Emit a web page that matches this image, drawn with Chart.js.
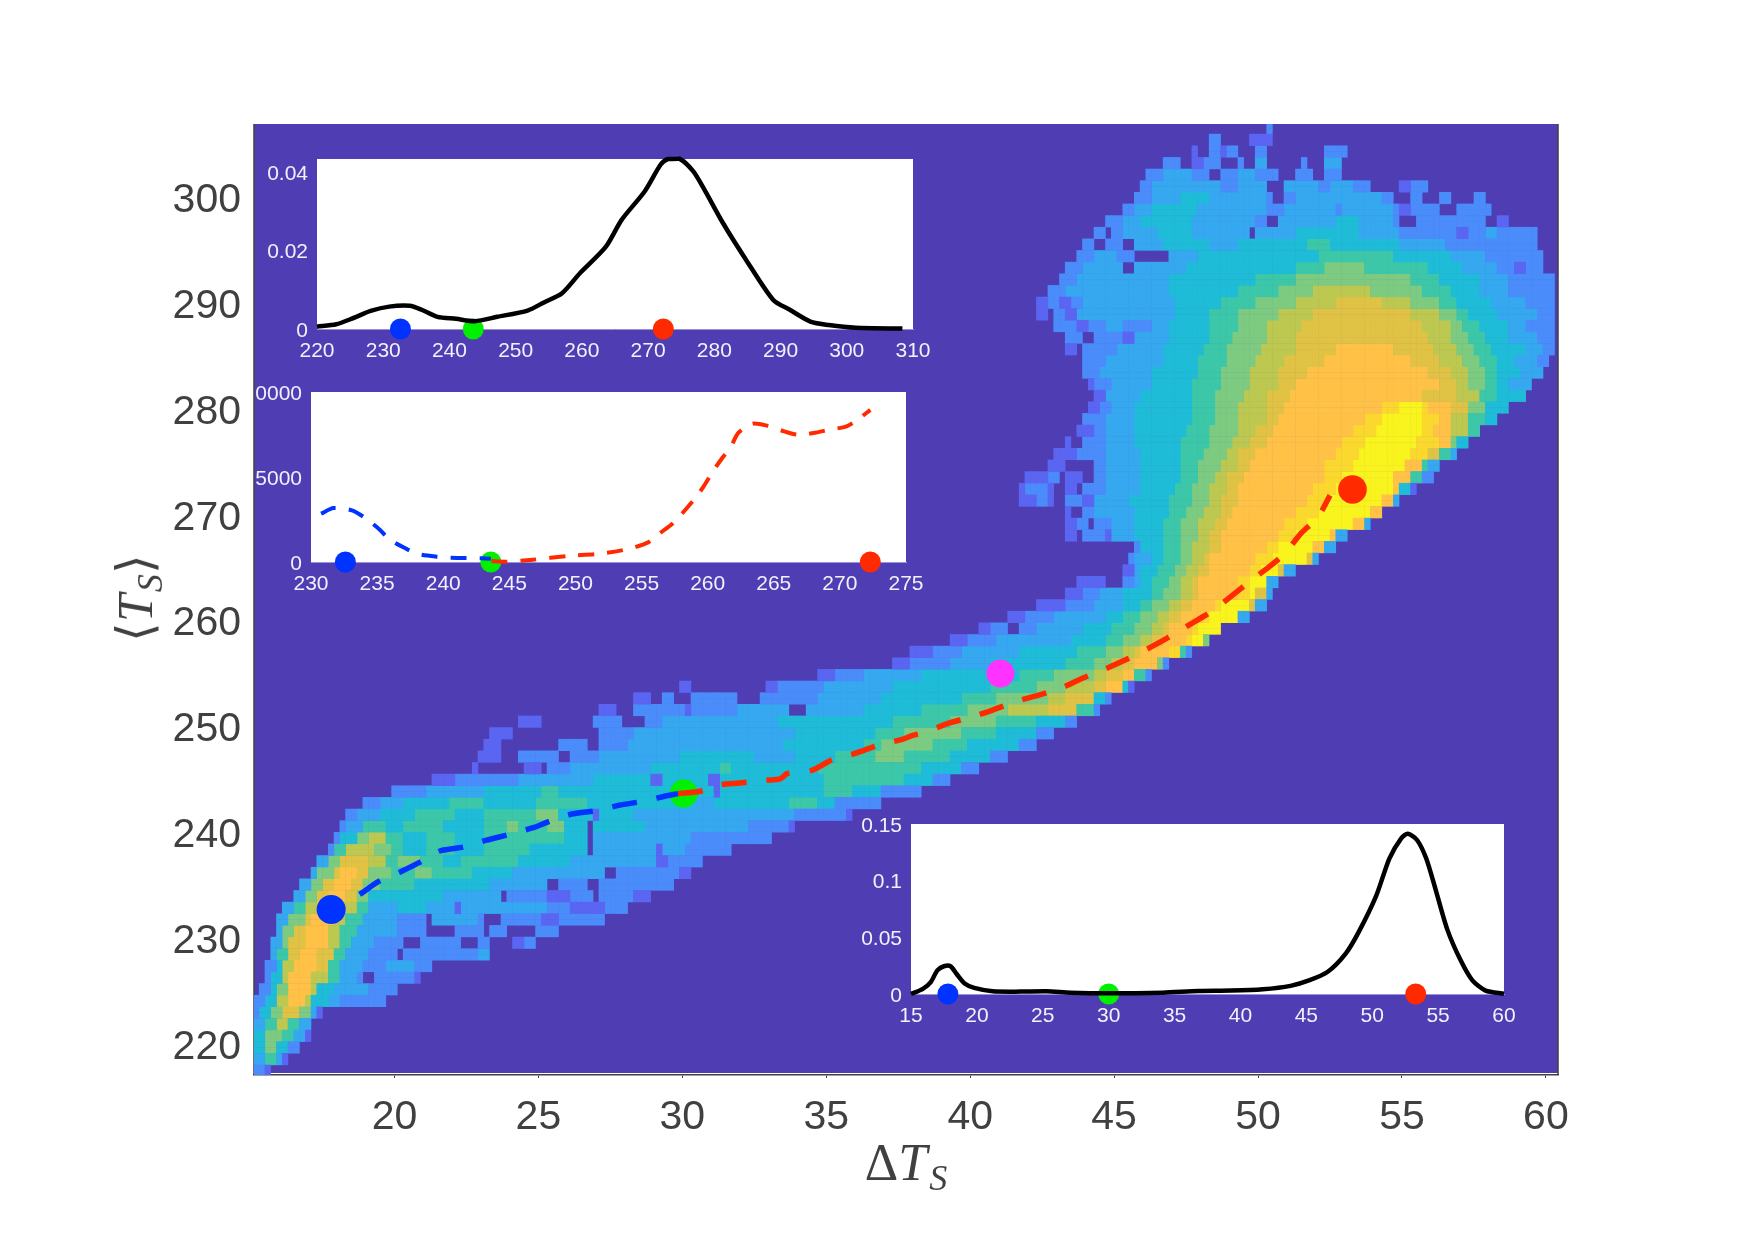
<!DOCTYPE html>
<html>
<head>
<meta charset="utf-8">
<script src="https://cdn.jsdelivr.net/npm/chart.js@4"></script>
<style>
  html, body { margin: 0; padding: 0; background: #fff; }
  #page { position: relative; width: 1755px; height: 1240px; overflow: hidden; }
  #page canvas { position: absolute; left: 0; top: 0; }
  .axis-title { position: absolute; color: #404040; font-family: "Liberation Serif", serif; font-size: 52px; line-height: 1; white-space: nowrap; }
  .axis-title i { font-style: italic; }
  .axis-title sub { font-size: 36px; line-height: 0; vertical-align: -10px; margin-left: 2px; }
  #xTitle { left: 906px; top: 1137px; transform: translateX(-50%); }
  #yTitle { left: 135px; top: 598px; transform: translate(-50%, -50%) rotate(-90deg); font-size: 50px; }
</style>
</head>
<body>
<div id="page">
  <canvas id="main" width="1755" height="1240"></canvas>
  <canvas id="insetTemp" width="1755" height="1240"></canvas>
  <canvas id="insetEnergy" width="1755" height="1240"></canvas>
  <canvas id="insetDelta" width="1755" height="1240"></canvas>
  <div class="axis-title" id="xTitle">Δ<i>T</i><sub><i>S</i></sub></div>
  <div class="axis-title" id="yTitle">⟨<i>T</i><sub><i>S</i></sub>⟩</div>
</div>
<script>
// Tick values and labels
const mainXTicks = [20, 25, 30, 35, 40, 45, 50, 55, 60];
const mainYTicks = [220, 230, 240, 250, 260, 270, 280, 290, 300];
const tempXTicks = [220, 230, 240, 250, 260, 270, 280, 290, 300, 310];
const tempYTicks = [0, 0.02, 0.04];
const tempYLabels = ['0', '0.02', '0.04'];
const energyXTicks = [230, 235, 240, 245, 250, 255, 260, 265, 270, 275];
const energyYTicks = [0, 5000, 10000];
const energyYLabels = ['0', '5000', '0000'];
const deltaXTicks = [15, 20, 25, 30, 35, 40, 45, 50, 55, 60];
const deltaYTicks = [0, 0.05, 0.1, 0.15];
const deltaYLabels = ['0', '0.05', '0.1', '0.15'];

// Marked states: cold, transition, warm, and the extra state on the main panel
const stateDeltaT = [17.8, 30.05, 53.28, 41.05];
const stateMeanT = [232.75, 243.7, 272.45, 255.05];
const stateTempX = [232.6, 243.6, 272.3];
const stateEnergyX = [232.6, 243.6, 272.3];
const stateDeltaX = [17.8, 30.0, 53.3];

// Dashed branches on the main panel
const coldBranchX = [17.88, 17.8, 18.8, 19.45, 20.2, 20.87, 21.6, 22.4, 23.2, 24.0, 24.85, 25.4, 26.2, 27.05, 27.8, 28.7, 29.46, 29.85];
const coldBranchY = [230.9, 232.7, 234.2, 235.4, 236.3, 237.2, 238.3, 238.65, 239.3, 239.85, 240.5, 241.1, 241.8, 242.1, 242.6, 243.0, 243.5, 243.7];
const warmBranchX = [29.85, 30.67, 31.2, 32.0, 32.87, 33.4, 33.65, 34.5, 35.2, 36.0, 36.85, 37.6, 38.0, 38.45, 39.18, 39.98, 40.78, 41.58, 42.38, 43.18, 43.9, 44.7, 45.44, 46.24, 46.9, 47.7, 48.37, 49.04, 49.78, 50.37, 50.96, 51.49, 52.07, 52.5];
const warmBranchY = [243.7, 243.95, 244.5, 244.7, 244.95, 245.1, 245.6, 245.9, 246.9, 247.5, 248.3, 248.8, 249.2, 249.5, 250.3, 250.9, 251.6, 252.4, 253.0, 253.7, 254.6, 255.5, 256.4, 257.5, 258.5, 259.8, 260.9, 262.3, 263.9, 265.1, 266.5, 268.3, 269.8, 271.9];

// Probability density of the mean temperature
const tempPdfX = [220, 222.9, 225.35, 228.1, 230.9, 234, 235.8, 238.2, 241, 243.8, 247.2, 251.8, 254.2, 257, 259.7, 263.6, 266, 269.5, 271.9, 273, 274.7, 276.8, 278.5, 281.3, 284.8, 288.9, 291.4, 294.5, 297.3, 301.4, 308.4];
const tempPdfY = [0.0006, 0.0012, 0.0027, 0.0046, 0.0057, 0.0059, 0.0049, 0.0031, 0.0026, 0.002, 0.0031, 0.0047, 0.0067, 0.0091, 0.0142, 0.0209, 0.0278, 0.0351, 0.0419, 0.0433, 0.0434, 0.0402, 0.0355, 0.027, 0.0176, 0.0074, 0.0049, 0.0019, 0.001, 0.0003, 0.0001];

// Potential curve, cold and warm pieces
const energyColdX = [230.76, 231.7, 233.1, 234.1, 235.2, 235.9, 237.1, 238, 239.5, 240.6, 242.85, 243.6];
const energyColdY = [2842, 3175, 3038, 2587, 1901, 1352, 823, 490, 314, 255, 216, 196];
const energyWarmX = [243.65, 244.8, 246.8, 249.4, 251.9, 254.1, 255.5, 256.4, 257.4, 258.1, 259, 259.7, 260.4, 261.1, 261.8, 262.3, 263.4, 264.4, 265.8, 266.8, 268, 269.2, 270.5, 271.5, 272.3];
const energyWarmY = [60, 20, 137, 353, 490, 784, 1156, 1705, 2293, 2881, 3704, 4449, 5331, 6115, 6840, 7585, 8134, 8036, 7683, 7487, 7585, 7781, 7977, 8467, 8950];

// Probability density of the temperature contrast
const deltaPdfX = [15, 15.9, 16.5, 17, 17.5, 18, 18.45, 19.1, 19.8, 21.2, 23.3, 25.3, 27.1, 29.9, 34.1, 36.8, 39.3, 41.7, 43.8, 45.2, 46.6, 48, 49, 50.3, 51.3, 52.2, 52.7, 53.4, 54.1, 54.8, 55.7, 56.7, 57.6, 58.6, 60];
const deltaPdfY = [0, 0.0045, 0.0105, 0.0209, 0.0245, 0.0245, 0.0179, 0.009, 0.0054, 0.0024, 0.0021, 0.0024, 0.0012, 0.0006, 0.0012, 0.0027, 0.003, 0.0042, 0.0072, 0.012, 0.0194, 0.0359, 0.0553, 0.0866, 0.1195, 0.1374, 0.1413, 0.1359, 0.1195, 0.0926, 0.0568, 0.0299, 0.012, 0.003, 0.0003];

// Occupancy histogram, one entry per band of mean temperature, lowest band first.
// Each band reads: contrast, level, contrast, level, ... , closing contrast. Level 0 is empty.
const heatFirstBand = 217.5;
const heatBandHeight = 1.1;
const heatBinWidth = 0.2;
const heatBinOrigin = 15.1;
const heatBands = [
  [15.1,2,15.5,1,15.7],
  [15.1,3,15.4,5,15.8,3,16.1,1,16.3],
  [15.1,4,15.4,6,15.9,4,16.3,2,16.6],
  [15.1,4,15.5,6,16.1,5,16.5,3,16.8,1,17.0],
  [15.1,3,15.4,5,15.8,7,16.3,5,16.7,3,17.0,1,17.1],
  [15.1,2,15.3,4,15.7,6,16.2,8,16.7,6,17.0,3,17.3,1,17.5],
  [15.1,2,15.4,4,15.8,7,16.3,9,16.8,7,17.1,4,17.6,3,18.2,2,19.6],
  [15.3,2,15.6,4,15.9,6,16.3,9,17.1,7,17.4,4,17.9,3,19.2,2,20.0],
  [15.4,2,15.6,4,16.0,7,16.4,9,17.2,7,17.6,5,18.0,3,18.6,2,18.9,0,19.3,2,20.7,1,20.9],
  [15.5,2,15.8,4,16.1,7,16.5,9,17.3,8,17.6,5,18.1,3,18.8,2,19.6,3,20.6,2,21.4],
  [15.6,3,15.9,5,16.3,8,16.6,9,17.4,8,17.8,5,18.3,3,19.1,2,20.0,0,20.3,2,22.9,3,23.3],
  [15.7,3,16.0,6,16.4,8,16.8,9,17.6,7,18.0,5,18.5,3,19.4,2,20.4,0,20.8,2,22.4,0,22.8,2,23.4,0,24.0,1,24.5,2,24.9],
  [15.8,3,16.1,6,16.5,8,16.9,9,17.7,7,18.1,5,18.6,3,20.0,2,21.1,0,22.0,2,23.0,0,23.4,2,23.9,0,24.8,2,25.7],
  [15.9,3,16.3,6,16.8,8,17.0,9,17.9,7,18.3,5,18.8,3,20.2,2,21.0,0,21.4,3,22.8,2,23.2,0,23.6,2,25.0,1,25.6,2,27.4],
  [16.1,3,16.5,5,16.9,7,17.3,9,18.2,7,18.6,5,19.2,3,20.2,4,21.0,3,22.0,1,22.3,3,25.4,2,26.2,1,27.4,2,28.1],
  [16.5,3,16.9,6,17.3,8,17.7,9,18.4,8,18.7,6,19.2,4,21.6,3,23.6,0,23.9,2,25.4,1,26.0,2,26.9,0,27.2,2,28.4,1,28.9],
  [16.7,3,17.1,6,17.5,8,17.9,9,18.5,8,18.9,6,19.5,5,20.6,4,23.4,3,25.3,0,25.6,2,26.6,0,27.0,2,28.2,0,28.4,2,29.7],
  [17.0,3,17.4,6,17.8,8,18.2,9,18.7,8,19.1,6,19.8,5,20.6,6,21.3,5,22.6,4,24.2,3,27.3,0,27.6,2,29.8,1,30.2],
  [17.3,3,17.7,6,18.2,8,19.0,7,19.6,5,20.2,6,20.8,5,21.6,4,22.4,5,24.4,4,26.0,3,29.0,1,29.5,2,30.7],
  [17.6,2,17.9,5,18.4,7,19.4,6,19.8,5,20.4,4,21.2,5,22.2,4,23.2,5,24.6,4,26.6,0,26.9,3,29.0,1,29.4,3,30.0,2,31.7],
  [17.8,2,18.2,4,18.7,6,19.2,7,19.7,5,20.4,4,21.0,5,22.2,4,23.0,5,25.8,4,26.6,0,26.9,3,30.4,2,33.1],
  [18.0,2,18.4,3,18.9,5,19.6,4,20.4,5,21.6,4,23.2,5,23.8,6,24.4,5,25.4,6,25.8,4,26.6,0,26.9,4,28.6,3,32.2,2,33.6,1,33.9],
  [18.3,2,18.7,3,19.5,4,20.6,5,22.0,4,23.2,5,24.8,6,25.6,4,26.8,1,27.0,4,28.4,3,34.0,2,35.6,1,35.9],
  [18.9,2,19.5,3,20.4,4,21.8,5,23.2,4,24.8,5,26.6,4,30.4,3,31.0,4,33.6,5,34.6,4,35.4,2,37.0],
  [19.8,2,21.0,3,23.0,4,25.0,5,25.6,4,29.6,5,30.0,4,31.0,1,31.3,4,35.0,5,36.0,4,37.0,2,38.3],
  [21.4,1,22.0,2,24.4,3,26.8,4,28.8,1,29.2,4,30.8,1,31.2,4,35.0,5,37.8,4,38.6,2,39.4],
  [22.6,1,22.9,0,24.5,1,25.0,0,25.4,2,26.2,3,28.8,4,31.4,5,31.7,4,34.6,5,38.2,4,39.6,2,40.2],
  [22.8,1,23.7,0,24.3,2,25.7,0,26.2,2,27.0,3,29.8,4,32.5,3,34.0,4,35.2,5,36.6,6,37.8,5,39.2,4,40.6,2,41.3],
  [23.1,1,23.6,0,25.7,2,26.6,0,27.0,2,28.0,3,33.5,4,36.2,5,37.0,6,38.8,5,40.0,4,41.6,2,42.3],
  [23.3,1,24.0,0,27.2,2,28.2,3,34.0,4,36.6,5,37.6,6,39.8,5,41.0,4,42.2,2,43.0],
  [24.3,1,25.1,0,26.8,2,27.9,0,28.6,2,29.4,3,33.2,4,37.2,5,39.4,6,41.0,5,42.4,4,43.2,2,43.6],
  [27.0,1,27.6,0,28.4,2,30.0,1,30.3,2,31.8,3,33.6,0,34.4,3,36.2,4,38.4,5,40.0,6,41.4,7,42.6,8,43.6,5,44.2,2,44.5],
  [28.4,1,28.8,0,29.2,2,29.7,0,30.2,2,32.0,0,32.7,2,34.6,3,37.0,4,39.6,5,41.0,6,42.6,7,43.4,8,44.4,4,44.8,2,45.0],
  [29.8,1,30.4,0,32.9,1,33.3,2,35.0,3,37.4,4,40.6,5,42.2,6,43.4,7,44.2,8,44.8,9,45.2,4,45.5,1,45.7],
  [34.6,1,35.2,2,36.4,3,38.4,4,41.6,5,43.0,6,44.2,7,44.8,8,45.2,9,45.8,5,46.1,2,46.3],
  [37.3,1,37.9,2,39.2,3,40.6,4,43.2,5,44.2,6,44.9,7,45.4,8,45.8,9,46.5,6,46.8,2,47.0],
  [38.0,1,38.7,2,39.8,3,41.8,4,43.8,5,44.8,6,45.2,7,45.6,8,46.0,9,46.9,10,47.3,5,47.5,2,47.7],
  [39.4,1,39.9,2,41.0,3,43.5,4,44.6,5,45.4,6,45.9,7,46.3,8,46.8,9,47.5,10,47.8,11,48.1,6,48.3,2,48.4],
  [40.2,1,40.7,2,41.3,0,41.6,2,42.4,3,44.0,4,45.0,5,45.6,6,46.2,7,46.6,8,47.0,9,47.7,10,48.0,11,48.6,4,48.8],
  [41.4,1,42.0,2,43.0,3,44.6,4,45.4,5,46.0,6,46.5,7,46.9,8,47.3,9,48.1,10,48.4,11,49.2,8,49.4,3,49.6],
  [42.4,1,43.3,2,44.2,3,45.2,4,45.9,5,46.4,6,46.9,7,47.3,8,47.7,9,48.5,10,48.8,11,49.8,8,50.0,3,50.2],
  [43.3,1,43.9,2,44.5,3,45.4,4,46.2,5,46.7,6,47.2,7,47.6,8,48.0,9,49.2,10,49.6,11,50.0,8,50.3,3,50.5],
  [43.6,1,44.8,0,45.2,2,45.6,3,46.0,4,46.4,5,47.0,6,47.4,7,47.7,8,48.0,9,49.3,10,49.8,11,50.2,8,50.4,3,50.6],
  [45.2,1,45.6,3,46.0,4,46.5,5,47.1,6,47.5,7,47.9,8,48.2,9,49.6,10,50.1,11,50.7,8,51.0,3,51.2],
  [45.5,2,45.8,3,46.2,4,46.6,5,47.2,6,47.6,7,48.1,8,48.4,9,49.9,10,50.5,11,51.6,8,51.9,3,52.1],
  [45.6,2,46.0,4,46.6,5,47.2,6,47.8,7,48.2,8,48.6,9,50.2,10,50.8,11,52.0,9,52.3,3,52.6],
  [43.4,1,43.6,0,44.0,2,44.6,1,44.9,3,45.8,4,46.7,5,47.3,6,47.9,7,48.4,8,48.8,9,50.6,10,51.3,11,52.5,9,52.8,3,53.1],
  [43.3,1,43.6,2,44.1,0,44.4,2,44.9,3,45.8,4,46.8,5,47.4,6,48.0,7,48.5,8,48.9,9,50.9,10,51.7,11,53.4,9,53.7,3,54.0],
  [43.2,1,43.5,0,43.9,2,44.3,3,45.6,4,46.9,5,47.5,6,48.1,7,48.6,8,49.1,9,51.3,10,52.1,11,53.9,9,54.2,3,54.4],
  [41.7,1,42.3,2,42.6,1,43.0,0,43.4,2,43.9,1,44.2,3,45.5,4,47.0,5,47.6,6,48.2,7,48.7,8,49.2,9,51.6,10,52.4,11,54.4,9,54.7,3,55.0],
  [41.7,1,42.0,2,42.8,1,43.0,0,43.2,1,43.6,0,44.0,2,44.6,3,45.9,4,47.1,5,47.8,6,48.4,7,48.9,8,49.4,9,51.9,10,52.7,11,54.6,9,55.0,4,55.4,1,55.5],
  [41.9,1,42.6,2,43.1,0,43.4,1,43.9,0,44.3,2,44.8,3,45.9,4,47.2,5,47.9,6,48.5,7,49.0,8,49.5,9,52.2,10,53.0,11,54.8,9,55.3,5,55.7,2,56.1],
  [42.6,1,43.2,0,44.4,2,44.8,3,46.0,4,47.3,5,48.0,6,48.7,7,49.2,8,49.7,9,52.4,10,53.2,11,55.1,9,55.6,5,56.0,3,56.4],
  [42.9,1,43.6,2,44.6,3,45.9,4,47.4,5,48.1,6,48.9,7,49.4,8,49.9,9,52.7,10,53.5,11,55.4,10,55.9,8,56.3,5,56.7,3,56.9],
  [43.2,1,43.5,0,43.9,2,44.6,3,45.7,4,47.4,5,48.3,6,49.1,7,49.7,8,50.2,9,53.0,10,53.8,11,55.5,10,56.2,9,56.6,6,57.0,4,57.4],
  [43.7,1,44.2,2,44.6,3,45.7,4,47.5,5,48.4,6,49.2,7,49.9,8,50.5,9,53.4,10,54.1,11,55.6,10,56.1,9,56.8,7,57.3,5,57.8],
  [44.0,2,44.6,3,45.8,4,47.6,5,48.5,6,49.3,7,50.2,8,50.8,9,53.7,10,54.4,11,55.7,10,56.2,9,56.8,7,57.4,5,57.9,4,58.2],
  [44.1,1,44.5,2,44.9,3,45.8,4,47.7,5,48.5,6,49.4,7,50.3,8,51.0,9,54.2,10,54.9,11,55.6,10,56.0,9,56.8,8,57.4,6,57.9,4,58.7],
  [44.4,1,44.7,3,46.0,4,47.8,5,48.5,6,49.5,7,50.4,8,51.1,9,55.8,8,57.0,7,57.6,5,58.2,4,59.2],
  [44.1,1,44.4,2,44.9,3,46.2,4,47.8,5,48.6,6,49.6,7,50.6,8,51.4,9,56.2,8,56.9,7,57.4,6,57.9,5,58.3,4,58.8,3,59.5],
  [44.0,2,44.5,3,46.4,4,47.9,5,48.8,6,49.8,7,50.8,8,51.8,9,55.9,8,56.7,7,57.3,6,57.9,5,58.4,4,59.1,3,59.9],
  [44.0,2,44.6,3,46.6,4,48.0,5,48.9,6,50.0,7,51.0,8,52.3,9,55.4,8,56.4,7,57.1,6,57.8,5,58.2,4,59.0,3,59.8,2,60.1],
  [43.3,1,43.6,0,44.0,2,45.1,3,46.8,4,48.1,5,49.0,6,50.1,7,51.2,8,52.8,9,54.6,8,56.1,7,56.9,6,57.5,5,58.1,4,59.2,3,59.9,2,60.2],
  [43.3,2,43.9,0,44.2,2,45.2,1,45.7,3,46.9,4,48.2,5,49.1,6,50.2,7,51.4,8,56.0,7,56.7,6,57.3,5,57.9,4,58.6,3,59.8,2,60.4],
  [43.0,2,43.7,1,44.1,2,44.6,3,45.2,2,46.2,3,47.0,4,48.3,5,49.2,6,50.3,7,51.5,8,55.8,7,56.6,6,57.1,5,57.7,4,58.6,3,59.4,2,60.4],
  [42.3,1,42.6,0,43.0,2,43.4,1,43.8,3,47.1,4,48.4,5,49.4,6,50.6,7,52.0,8,55.4,7,56.2,6,56.9,5,57.4,4,58.3,3,59.6,2,60.4],
  [42.4,1,42.7,2,43.1,1,43.5,2,43.9,3,47.1,4,48.8,5,49.9,6,51.4,7,52.6,8,54.4,7,55.4,6,56.2,5,57.0,4,58.1,3,59.3,2,60.4],
  [42.7,2,43.2,3,47.0,4,49.4,5,50.6,6,52.0,7,54.0,6,55.6,5,56.8,4,57.8,3,58.8,2,60.3],
  [43.1,2,43.6,3,46.9,4,50.0,5,51.2,6,55.2,5,56.4,4,57.6,3,58.8,2,60.2],
  [43.4,2,44.0,3,45.4,0,45.6,3,47.5,4,51.4,5,52.4,6,53.8,5,55.9,4,57.1,3,58.3,2,59.0,1,59.3,2,60.0],
  [43.8,2,44.4,3,45.1,2,45.6,0,46.9,3,47.9,4,52.1,5,54.8,4,56.7,3,57.9,2,60.0],
  [44.0,2,44.4,0,44.7,2,45.4,0,45.7,3,46.6,4,48.4,3,49.3,4,51.8,5,52.5,4,55.0,3,56.5,2,59.7],
  [44.3,2,44.7,0,44.9,2,45.3,3,46.5,4,47.6,3,49.7,0,50.0,3,51.3,4,53.5,3,55.0,2,56.9,1,57.4,2,58.0,3,58.4,2,59.6],
  [44.7,2,45.2,3,45.9,4,47.8,3,50.0,2,50.3,0,50.8,3,52.6,4,53.5,3,54.8,2,55.0,0,55.5,2,57.9,0,58.2,1,58.8],
  [45.2,2,45.6,3,46.3,4,48.0,3,50.3,2,51.0,3,52.8,2,53.0,3,54.6,2,55.0,1,55.3,2,56.4,0,56.9,2,58.1],
  [45.6,2,46.2,3,47.4,4,48.2,3,50.2,2,50.5,0,50.9,2,51.4,3,54.2,2,54.8,0,55.4,2,55.8,0,56.4,2,56.7,0,57.5,2,58.0],
  [46.0,2,46.4,3,48.6,2,49.4,3,50.4,0,50.9,3,52.1,2,52.5,3,53.4,2,54.0,0,54.9,1,55.2,2,56.0],
  [46.1,2,46.6,3,47.6,2,48.3,0,48.6,2,49.4,3,50.0,2,50.7,0,51.2,2,51.9,0,52.2,2,53.0,0,53.9,1,54.0],
  [46.8,2,47.4,0,47.7,1,48.1,2,48.8,0,49.2,2,49.5,0,50.0,3,50.4,0,51.5,2,51.7,0,52.2,3,52.9],
  [47.6,1,47.9,0,48.2,2,48.8,1,49.0,2,49.4,0,50.0,2,50.4,0,52.3,2,53.1],
  [48.3,2,48.8,0,49.7,1,50.5],
  [48.6,2,48.8,0,50.2,2,50.5]
];

const heatColors = [null, '#5A66F2', '#4A8CFA', '#35A8F0', '#1FBCD8', '#3CC8A8', '#7CCB80', '#BCC850', '#E0C244', '#FFC247', '#FBD82E', '#F9F31E'];
const backdrop = '#4F3DB3';
const inkGrey = '#404040';
const tickWhite = '#F2F0FA';
const coldBlue = '#0033FF';
const midGreen = '#00F000';
const warmRed = '#FF2A00';
const extraPink = '#FF33FF';

const zip = (xs, ys) => xs.map((x, i) => ({ x, y: ys[i] }));

function decodeHeat() {
  const levels = heatColors.map(() => []);
  heatBands.forEach((band, i) => {
    const mid = heatFirstBand + i * heatBandHeight;
    for (let j = 0; j + 2 < band.length; j += 2) {
      const level = band[j + 1];
      if (!level) continue;
      const from = Math.round((band[j] - heatBinOrigin) / heatBinWidth);
      const to = Math.round((band[j + 2] - heatBinOrigin) / heatBinWidth);
      for (let k = from; k < to; k++) {
        const x = heatBinOrigin + (k + 0.5) * heatBinWidth;
        levels[level].push({ x, y: mid - heatBandHeight / 4 }, { x, y: mid + heatBandHeight / 4 });
      }
    }
  });
  return levels;
}

const heatDatasets = decodeHeat().map((points, level) => ({
  data: points,
  pointStyle: 'rect',
  pointRadius: 4.45,
  pointHoverRadius: 4.45,
  pointBackgroundColor: heatColors[level] || backdrop,
  pointBorderWidth: 0,
  showLine: false,
  order: 5
})).filter(d => d.data.length);

function marker(xs, ys, color, radius) {
  return { data: zip(xs, ys), showLine: false, clip: false, pointRadius: radius, pointHoverRadius: radius,
           pointBackgroundColor: color, pointBorderWidth: 0, order: 2 };
}
function curve(xs, ys, color, width, dash, dashOffset) {
  return { data: zip(xs, ys), showLine: true, clip: false, pointRadius: 0, borderColor: color, borderWidth: width,
           borderDash: dash || [], borderDashOffset: dashOffset || 0, borderCapStyle: 'butt', borderJoinStyle: 'round',
           tension: 0.25, fill: false, order: 1 };
}

function buildChart(id, box, datasets, axes, plugin) {
  const fixTicks = (values) => (scale) => { scale.ticks = values.map(value => ({ value })); };
  // Moves the value labels of the y axis down so the digits sit centred on their tick
  const labelNudge = {
    id: 'labelNudge',
    beforeDraw(chart) {
      if (chart.$labelsNudged) return;
      chart.scales.y.getLabelItems().forEach(item => { item.options.translation[1] += axes.yLabelShift; });
      chart.$labelsNudged = true;
    }
  };
  return new Chart(document.getElementById(id), {
    type: 'scatter',
    data: { datasets },
    plugins: [plugin, labelNudge],
    options: {
      responsive: false, animation: false, events: [],
      layout: { padding: { left: 0, top: box.top, right: 1755 - box.right, bottom: 0 } },
      plugins: { legend: { display: false }, tooltip: { enabled: false }, title: { display: false } },
      scales: {
        x: {
          type: 'linear', min: axes.xMin, max: axes.xMax,
          afterBuildTicks: fixTicks(axes.xTicks),
          afterFit: (s) => { s.height = 1240 - box.bottom; },
          grid: { drawOnChartArea: false, drawTicks: axes.xTickLen !== 0, tickLength: axes.xTickLen, color: axes.lineColor, tickColor: axes.lineColor, lineWidth: 1 },
          border: { display: true, color: axes.lineColor, width: axes.lineWidth },
          ticks: { autoSkip: false, maxRotation: 0, minRotation: 0, padding: axes.xPad, color: axes.textColor,
                   font: { family: '"Liberation Sans", Arial, sans-serif', size: axes.fontSize } }
        },
        y: {
          type: 'linear', min: axes.yMin, max: axes.yMax,
          afterBuildTicks: fixTicks(axes.yTicks),
          afterFit: (s) => { s.width = box.left; },
          grid: { drawOnChartArea: false, drawTicks: false },
          border: { display: false },
          ticks: { autoSkip: false, padding: axes.yPad, color: axes.textColor,
                   callback: axes.yLabels ? (v) => axes.yLabels[axes.yTicks.indexOf(v)] : (v) => String(v),
                   font: { family: '"Liberation Sans", Arial, sans-serif', size: axes.fontSize } }
        }
      }
    }
  });
}

// Solid panel behind the data; the main panel stops just short of its bottom axis line
function panelFill(color, inset, spines) {
  return {
    id: 'panelFill',
    beforeDatasetsDraw(chart) {
      const a = chart.chartArea, c = chart.ctx;
      c.save();
      c.fillStyle = color;
      c.fillRect(a.left, a.top, a.right - a.left, a.bottom - a.top - inset);
      if (spines) {
        c.strokeStyle = inkGrey; c.lineWidth = 1.5;
        c.beginPath();
        c.moveTo(a.left, a.top); c.lineTo(a.left, a.bottom);
        c.moveTo(a.right, a.top); c.lineTo(a.right, a.bottom);
        c.stroke();
      }
      c.restore();
    }
  };
}

buildChart('main', { left: 254, right: 1558, top: 124, bottom: 1075 }, [
  curve(warmBranchX, warmBranchY, warmRed, 5.5, [25, 20]),
  curve(coldBranchX, coldBranchY, coldBlue, 5.5, [25, 20], 38),
  marker([stateDeltaT[0]], [stateMeanT[0]], coldBlue, 14.5),
  marker([stateDeltaT[1]], [stateMeanT[1]], midGreen, 14),
  marker([stateDeltaT[2]], [stateMeanT[2]], warmRed, 14.3),
  marker([stateDeltaT[3]], [stateMeanT[3]], extraPink, 14),
  ...heatDatasets
], {
  xMin: 15.12, xMax: 60.42, yMin: 217.1, yMax: 307,
  xTicks: mainXTicks, yTicks: mainYTicks, xTickLen: 3, xPad: 15, yPad: 13, yLabelShift: 3,
  lineColor: inkGrey, lineWidth: 1.5, textColor: inkGrey, fontSize: 41
}, panelFill(backdrop, 2, true));

const insetStyle = { lineColor: '#9A90DC', lineWidth: 1, textColor: tickWhite, fontSize: 21, xTickLen: 0, xPad: 10, yPad: 9, yLabelShift: 2 };

buildChart('insetTemp', { left: 317, right: 913, top: 159, bottom: 329 }, [
  curve(tempPdfX, tempPdfY, '#000000', 4.5),
  marker([stateTempX[0]], [0], coldBlue, 10.5),
  marker([stateTempX[1]], [0], midGreen, 10.5),
  marker([stateTempX[2]], [0], warmRed, 10.5)
], { ...insetStyle, xMin: 220, xMax: 310, yMin: 0, yMax: 0.0433, xTicks: tempXTicks, yTicks: tempYTicks, yLabels: tempYLabels },
panelFill('#FFFFFF', 0, false));

buildChart('insetEnergy', { left: 311, right: 906, top: 392, bottom: 562 }, [
  curve(energyWarmX, energyWarmY, warmRed, 4, [16, 13]),
  curve(energyColdX, energyColdY, coldBlue, 4, [16, 13]),
  marker([stateEnergyX[0]], [0], coldBlue, 10.5),
  marker([stateEnergyX[1]], [0], midGreen, 10.5),
  marker([stateEnergyX[2]], [0], warmRed, 10.5)
], { ...insetStyle, xMin: 230, xMax: 275, yMin: 0, yMax: 10000, xTicks: energyXTicks, yTicks: energyYTicks, yLabels: energyYLabels },
panelFill('#FFFFFF', 0, false));

buildChart('insetDelta', { left: 911, right: 1504, top: 824, bottom: 994 }, [
  curve(deltaPdfX, deltaPdfY, '#000000', 4.5),
  marker([stateDeltaX[0]], [0], coldBlue, 10.5),
  marker([stateDeltaX[1]], [0], midGreen, 10.5),
  marker([stateDeltaX[2]], [0], warmRed, 10.5)
], { ...insetStyle, xMin: 15, xMax: 60, yMin: 0, yMax: 0.15, xTicks: deltaXTicks, yTicks: deltaYTicks, yLabels: deltaYLabels },
panelFill('#FFFFFF', 0, false));
</script>
</body>
</html>
